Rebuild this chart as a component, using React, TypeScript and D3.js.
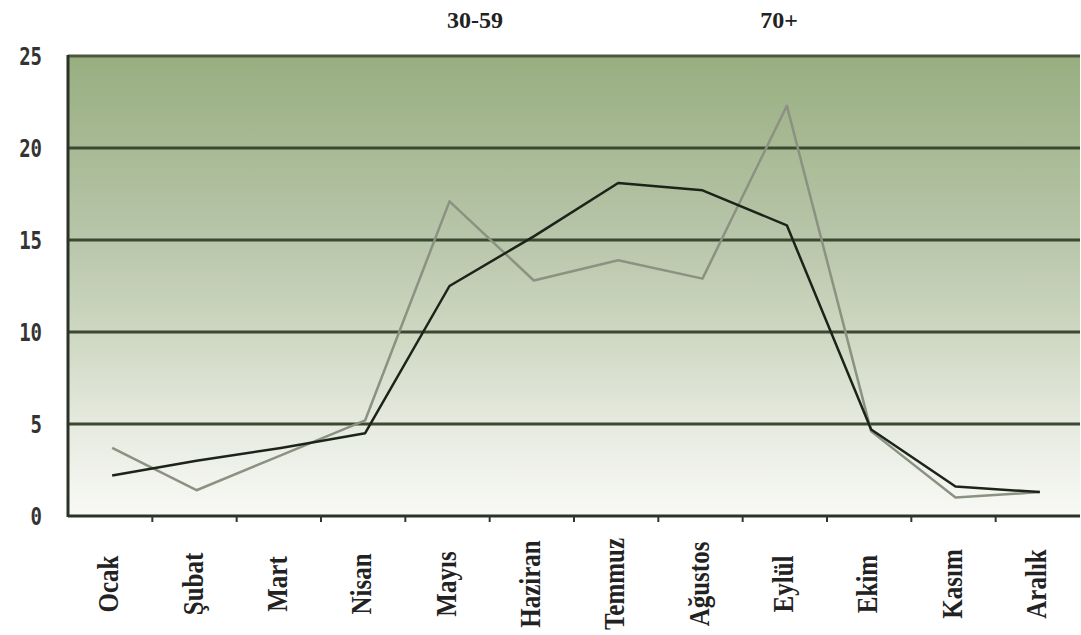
import React from "react";
import * as d3 from "d3";

const months = ["Ocak", "Şubat", "Mart", "Nisan", "Mayıs", "Haziran", "Temmuz", "Ağustos", "Eylül", "Ekim", "Kasım", "Aralık"];
const seriesNames = ["30-59", "70+"];
const series3059 = [2.2, 3.0, 3.7, 4.5, 12.5, 15.2, 18.1, 17.7, 15.8, 4.7, 1.6, 1.3];
const series70 = [3.7, 1.4, 3.3, 5.2, 17.1, 12.8, 13.9, 12.9, 22.3, 4.6, 1.0, 1.3];
const yTicks = [0, 5, 10, 15, 20, 25];

const W = 1081, H = 635;
const left = 68, right = 1080, top = 56, bottom = 516;

export default function App() {
  const x = d3.scaleBand<string>().domain(months).range([left, right]);
  const y = d3.scaleLinear().domain([0, 25]).range([bottom, top]);
  const line = d3.line<number>()
    .x((_, i) => (x(months[i]) as number) + x.bandwidth() / 2 + 2)
    .y((d) => y(d));
  const boundaries = months.slice(1).map((m) => x(m) as number);

  return (
    <svg width={W} height={H} style={{ position: "absolute", left: 0, top: 0, background: "#fff" }}>
      <defs>
        <linearGradient id="bg" x1="0" y1="0" x2="0" y2="1">
          <stop offset="0" stopColor="#98ae80" />
          <stop offset="0.4" stopColor="#b8c6aa" />
          <stop offset="0.62" stopColor="#d0d9c4" />
          <stop offset="0.8" stopColor="#e6eadf" />
          <stop offset="1" stopColor="#f8f9f5" />
        </linearGradient>
      </defs>
      <rect x={left} y={top} width={right - left} height={bottom - top} fill="url(#bg)" />
      <line x1={left} x2={right} y1={top} y2={top} stroke="#4a5840" strokeWidth={3} />
      {yTicks.filter((t) => t > 0 && t < 25).map((t) => (
        <line key={t} x1={left} x2={right} y1={y(t)} y2={y(t)} stroke="#3b4832" strokeWidth={3} />
      ))}
      <line x1={left} x2={left} y1={top - 1} y2={bottom + 1} stroke="#2a3326" strokeWidth={3} />
      <line x1={left} x2={right} y1={bottom} y2={bottom} stroke="#2a3326" strokeWidth={3} />
      {boundaries.map((b, i) => (
        <line key={i} x1={b} x2={b} y1={bottom} y2={bottom + 6} stroke="#333" strokeWidth={2} />
      ))}
      <path d={line(series70) || ""} fill="none" stroke="#8b9282" strokeWidth={2.5} strokeLinejoin="round" />
      <path d={line(series3059) || ""} fill="none" stroke="#1c2419" strokeWidth={2.5} strokeLinejoin="round" />
      {yTicks.map((t) => (
        <text key={t} transform={`translate(42,${y(t)}) scale(1,1.3)`} textAnchor="end" dy="0.35em" fontFamily="DejaVu Sans Mono, monospace" fontWeight="bold" fontSize={19} fill="#333">{t}</text>
      ))}
      {months.map((m) => {
        const cx = (x(m) as number) + x.bandwidth() / 2 - 2;
        return (
          <text key={m} transform={`translate(${cx},584) rotate(-90) scale(1,1.15)`} textAnchor="middle" dy="0.35em" fontFamily="Liberation Serif, serif" fontWeight="bold" fontSize={25} fill="#222">{m}</text>
        );
      })}
      <text x={475} y={20} dy="0.35em" textAnchor="middle" fontFamily="Liberation Serif, serif" fontWeight="bold" fontSize={24} fill="#222">{seriesNames[0]}</text>
      <text x={779} y={20} dy="0.35em" textAnchor="middle" fontFamily="Liberation Serif, serif" fontWeight="bold" fontSize={24} fill="#222">{seriesNames[1]}</text>
    </svg>
  );
}
